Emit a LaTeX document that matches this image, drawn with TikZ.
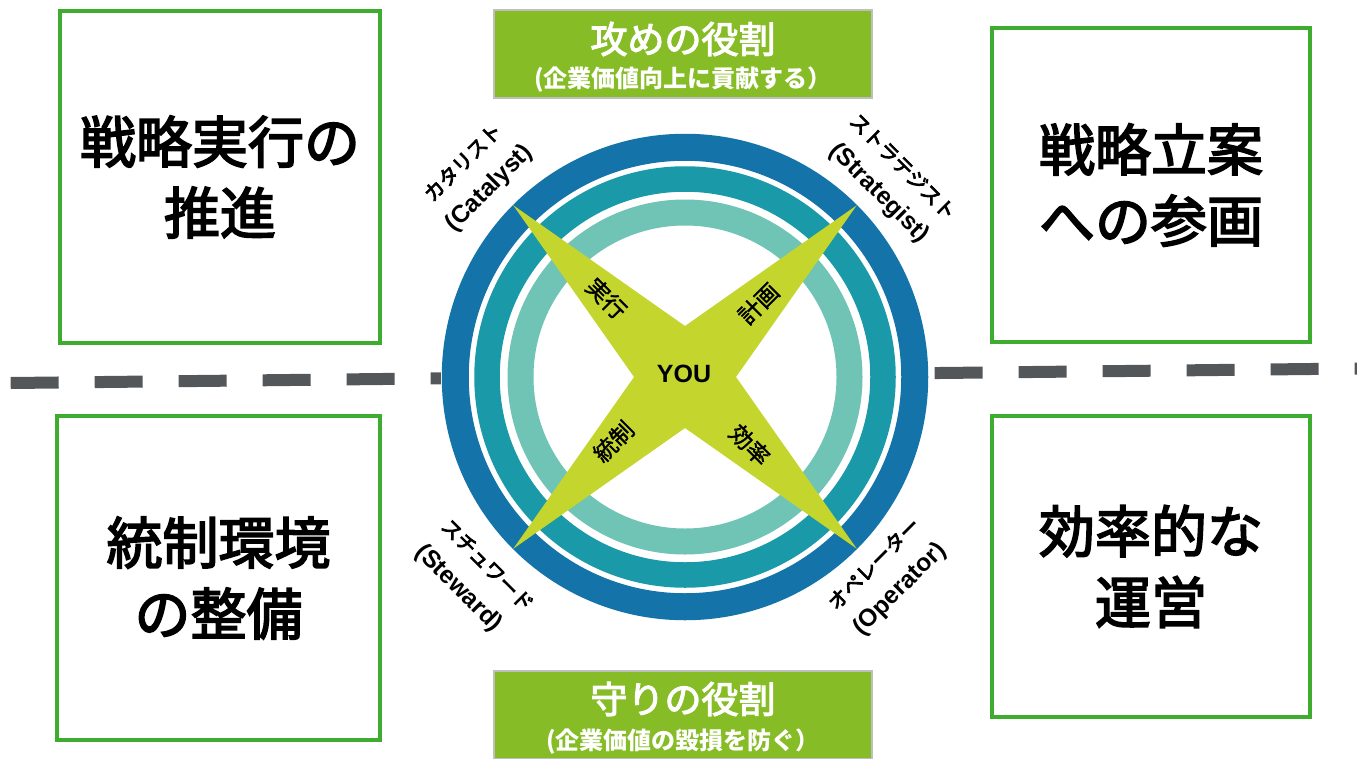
\documentclass[tikz,border=0pt]{standalone}
\usepackage{fontspec}
\setmainfont{Noto Sans CJK JP}
\newfontfamily\jpmed{Noto Sans CJK JP}[FakeBold=1.5]
\newfontfamily\jpheavy{Noto Sans CJK JP}[FakeBold=3]
\newfontfamily\jplab{Noto Sans CJK JP}[FakeBold=4]
\newfontfamily\latb{Liberation Sans Bold}
\definecolor{boxgreen}{RGB}{62,172,47}
\definecolor{rolegreen}{RGB}{134,188,37}
\definecolor{roleedge}{RGB}{191,191,191}
\definecolor{dashgray}{RGB}{84,87,90}
\definecolor{starcol}{RGB}{196,214,46}
\definecolor{ringa}{RGB}{20,115,168}
\definecolor{ringb}{RGB}{26,154,169}
\definecolor{ringc}{RGB}{112,196,181}
\begin{document}
\begin{tikzpicture}[x=1pt,y=-1pt,
  gbox/.style={draw=boxgreen, line width=4pt, fill=white, align=center, inner sep=0pt,
    font=\jpheavy\fontsize{56}{71}\selectfont},
  rolebox/.style={draw=roleedge, line width=2pt, fill=rolegreen, minimum width=378pt, minimum height=88pt, inner sep=0pt},
  roletitle/.style={text=white, font=\jpheavy\fontsize{37}{40}\selectfont, inner sep=0pt},
  rolesub/.style={text=white, font=\bfseries\fontsize{24}{26}\selectfont, inner sep=0pt},
  rolejp/.style={inner sep=0pt, font=\jplab\fontsize{20}{22}\selectfont},
  roleen/.style={inner sep=0pt, font=\latb\fontsize{24.5}{26}\selectfont},
  starlabel/.style={inner sep=0pt, font=\jpmed\fontsize{23}{24}\selectfont}
]
\useasboundingbox (0,0) rectangle (1357,758);

% dashed separator
\coordinate (dl) at (10.7,383);
\coordinate (dr) at (1357,368.5);
\draw[dashgray, line width=12pt, dash pattern=on 48pt off 36pt] (dl) -- (dr);

% quadrant boxes
\node[gbox, minimum width=320pt, minimum height=332pt] (tl) at (220,177) {戦略実行の\\推進};
\node[gbox, minimum width=318pt, minimum height=314pt] (tr) at (1151,185) {戦略立案\\への参画};
\node[gbox, minimum width=323pt, minimum height=324pt] (bl) at (218.5,578) {統制環境\\の整備};
\node[gbox, minimum width=318pt, minimum height=301pt] (br) at (1151,566.5) {効率的な\\運営};

% rings
\coordinate (c) at (685,377);
\fill[white] (c) circle[radius=244pt];
\draw[ringa, line width=27pt] (c) circle[radius=229.75pt];
\draw[ringb, line width=25.5pt] (c) circle[radius=198pt];
\draw[ringc, line width=26pt] (c) circle[radius=164.5pt];

% star
\fill[starcol] (513.2,205.2) -- (685,326) -- (856.8,205.2) -- (736,377) -- (856.8,548.8)
  -- (685,428) -- (513.2,548.8) -- (634,377) -- cycle;

\node[inner sep=0pt, font=\latb\fontsize{25}{28}\selectfont] (you) at (684,374) {YOU};
\node[starlabel, rotate=-45] (jikko) at (606.5,298.5) {実行};
\node[starlabel, rotate=45] (keikaku) at (758.5,303.5) {計画};
\node[starlabel, rotate=45] (tosei) at (613.5,441.5) {統制};
\node[starlabel, rotate=-45] (koritsu) at (750,445) {効率};

% role labels
\node[rolejp, rotate=45] (catalystjp) at (462.5,162) {カタリスト};
\node[roleen, rotate=45] (catalysten) at (489.5,188.5) {(Catalyst)};
\node[rolejp, rotate=-45] (strategistjp) at (903,166.5) {ストラテジスト};
\node[roleen, rotate=-45] (strategisten) at (879,193.5) {(Strategist)};
\node[rolejp, rotate=-45] (stewardjp) at (487.5,565) {スチュワード};
\node[roleen, rotate=-45] (stewarden) at (458.5,588.5) {(Steward)};
\node[rolejp, rotate=45] (operatorjp) at (873.5,563.5) {オペレーター};
\node[roleen, rotate=45] (operatoren) at (900,589.5) {(Operator)};

% role boxes
\node[rolebox] (attack) at (683,54) {};
\node[roletitle] (attackt) at (683,39) {攻めの役割};
\node[rolesub] (attacks) at (683,80) {(企業価値向上に貢献する）};
\node[rolebox] (defend) at (683,715) {};
\node[roletitle] (defendt) at (683,699) {守りの役割};
\node[rolesub] (defends) at (683,742) {(企業価値の毀損を防ぐ）};
\end{tikzpicture}
\end{document}
